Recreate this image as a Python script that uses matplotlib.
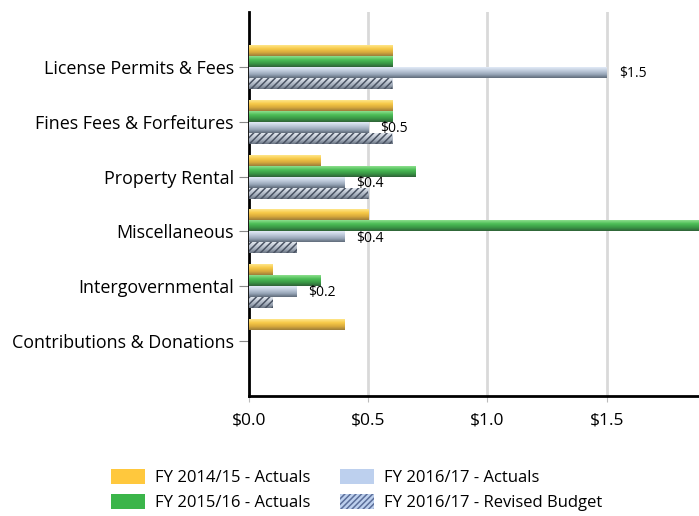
import numpy as np
import matplotlib.pyplot as plt
from matplotlib.colors import LinearSegmentedColormap
from matplotlib.patches import Patch
from matplotlib.ticker import FuncFormatter

plt.rcParams['font.family'] = ['Open Sans', 'DejaVu Sans']
plt.rcParams['hatch.linewidth'] = 1.1

# Datos (millones de $)
categorias = ['License Permits & Fees', 'Fines Fees & Forfeitures', 'Property Rental',
              'Miscellaneous', 'Intergovernmental', 'Contributions & Donations']
fy1415_act = [0.6, 0.6, 0.3, 0.5, 0.1, 0.4]
fy1516_act = [0.6, 0.6, 0.7, 2.3, 0.3, 0.0]
fy1617_act = [1.5, 0.5, 0.4, 0.4, 0.2, 0.0]
fy1617_bud = [0.6, 0.6, 0.5, 0.2, 0.1, 0.0]
series_nombres = ['FY 2014/15 - Actuals', 'FY 2015/16 - Actuals',
                  'FY 2016/17 - Actuals', 'FY 2016/17 - Revised Budget']

# Degradados (arriba claro -> abajo oscuro)
grad_naranja = ['#FFE68A', '#F7C948', '#D9AA3C', '#9C7D3A']
grad_verde = ['#8EE08E', '#4DBE57', '#3A9A46', '#2F6238']
grad_azul = ['#E2EBF7', '#BFCBDB', '#98A6B8', '#5F6B7A']
grad_rayado = ['#E4E9F0', '#C2CAD5', '#A0AAB8', '#6A7482']

fig = plt.figure(figsize=(6.99, 5.16), dpi=100)
ax = fig.add_axes([249/699, 1 - 396/516, 1 - 249/699, 384/516])

y = np.arange(len(categorias))
h = 0.2
offsets = [-0.3, -0.1, 0.1, 0.3]
valores = [fy1415_act, fy1516_act, fy1617_act, fy1617_bud]
grads = [grad_naranja, grad_verde, grad_azul, grad_rayado]

ax.set_xlim(0, 1.887)
ax.set_ylim(6, -1)

for vals, off, g, i in zip(valores, offsets, grads, range(4)):
    cmap = LinearSegmentedColormap.from_list('g%d' % i, g)
    barras = ax.barh(y + off, vals, height=h, color='none', linewidth=0, zorder=3)
    for b in barras:
        if b.get_width() <= 0:
            continue
        x0, y0 = b.get_x(), b.get_y()
        w, hh = b.get_width(), b.get_height()
        grad = np.linspace(0, 1, 64).reshape(-1, 1)
        im = ax.imshow(grad, cmap=cmap, aspect='auto', extent=(x0, x0 + w, y0 + hh, y0),
                       origin='upper', zorder=3, interpolation='bilinear')
        im.set_clip_path(b)
    if i == 3:
        ax.barh(y + off, vals, height=h, facecolor='none', edgecolor='#4A5363',
                hatch='/////', linewidth=0, zorder=4)

# Etiquetas de la serie FY 2016/17 - Actuals
for yi, v in zip(y, fy1617_act):
    if v > 0:
        ax.text(v + 0.05, yi + 0.12, '$%.1f' % v, fontsize=10, va='center', ha='left', zorder=5)

ax.set_yticks(y)
ax.set_yticklabels(categorias, fontsize=12.9)
ax.set_xticks([0, 0.5, 1.0, 1.5])
ax.xaxis.set_major_formatter(FuncFormatter(lambda v, p: '$%.1f' % v))
ax.tick_params(axis='x', labelsize=12.5, length=4, color='#BBBBBB', pad=8)
ax.tick_params(axis='y', length=7, color='#888888', pad=4)
ax.grid(axis='x', color='#D9D9D9', linewidth=2, zorder=0)
ax.set_axisbelow(True)
for s in ['top', 'right']:
    ax.spines[s].set_visible(False)
ax.spines['left'].set_linewidth(2)
ax.spines['bottom'].set_linewidth(2)

handles = [Patch(facecolor='#FFC83D'), Patch(facecolor='#3BB54A'),
           Patch(facecolor='#BDD0EE'),
           Patch(facecolor='#BDD0EE', edgecolor='#5B6E99', hatch='//////', linewidth=0)]
fig.legend(handles, series_nombres, ncol=2, loc='center', bbox_to_anchor=(0.51, 0.050),
           frameon=False, fontsize=12, handlelength=2.05, handleheight=1.05,
           columnspacing=1.75, labelspacing=0.45, handletextpad=0.6)

fig.savefig('out.png', dpi=100)
